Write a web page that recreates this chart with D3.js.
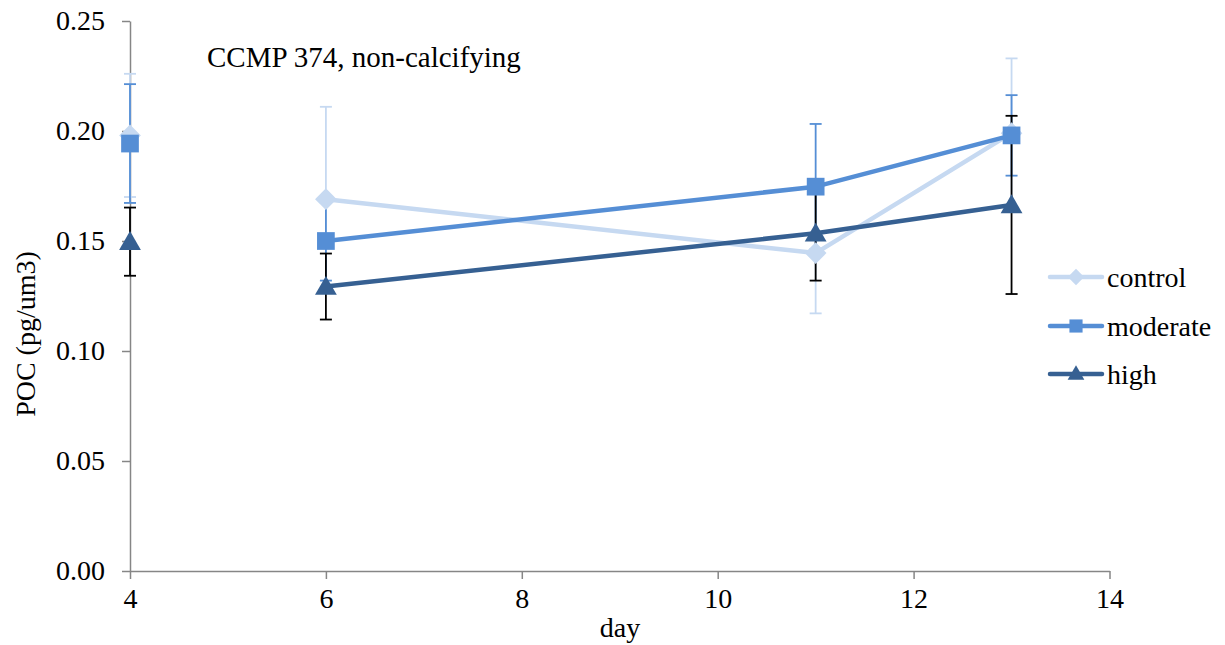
<!DOCTYPE html>
<html><head><meta charset="utf-8">
<script src="https://cdn.jsdelivr.net/npm/d3@7"></script>
<style>body{margin:0;background:#fff}svg text{font-family:"Liberation Serif","Times New Roman",serif;fill:#000}</style>
</head><body>
<svg id="c" width="1225" height="645"></svg>
<script>
const days = [4, 5, 6, 11, 13];
const seriesNames = ["control", "moderate", "high"];
const controlVals = [0.198, null, 0.169, 0.1445, 0.199];
const controlErr = [0.028, null, 0.042, 0.0274, 0.034];
const moderateVals = [0.1943, null, 0.150, 0.1747, 0.198];
const moderateErr = [0.027, null, 0.018, 0.0285, 0.0183];
const highVals = [0.1497, null, 0.1293, 0.1535, 0.1664];
const highErr = [0.0155, null, 0.015, 0.0215, 0.0405];
const yTicks = [0, 0.05, 0.10, 0.15, 0.20, 0.25];
const xTicks = [4, 6, 8, 10, 12, 14];
const title = "CCMP 374, non-calcifying";

const colors = ["#c6d9f1", "#558ed5", "#366092"];
const errColors = ["#c6d9f1", "#558ed5", "#000000"];
const symbols = [d3.symbolDiamond2, d3.symbolSquare2, d3.symbolTriangle2];
const vals = [controlVals, moderateVals, highVals];
const errs = [controlErr, moderateErr, highErr];

const svg = d3.select("#c");
const x = d3.scaleLinear().domain([4, 14]).range([130, 1109.5]);
const y = d3.scaleLinear().domain([0, 0.25]).range([571, 21]);
const fs = 28;

// axes
const gy = svg.append("g").attr("transform", "translate(130,0)")
  .call(d3.axisLeft(y).tickValues(yTicks).tickFormat(d3.format(".2f")).tickSize(8).tickSizeOuter(0));
const gx = svg.append("g").attr("transform", "translate(0,571)")
  .call(d3.axisBottom(x).tickValues(xTicks).tickFormat(d3.format("d")).tickSize(8).tickSizeOuter(0));
[gy, gx].forEach(g => {
  g.select(".domain").attr("stroke", "#868686").attr("stroke-width", 1.5);
  g.selectAll(".tick line").attr("stroke", "#868686").attr("stroke-width", 1.5);
  g.selectAll(".tick text").attr("font-size", fs).attr("font-family", "Liberation Serif").attr("fill", "#000");
});
gy.selectAll(".tick text").attr("x", -25);
gx.selectAll(".tick text").attr("y", 17);

// error bars
const cap = 6;
seriesNames.forEach((s, i) => {
  const g = svg.append("g").attr("stroke", errColors[i]).attr("stroke-width", 1.8).attr("fill", "none");
  days.forEach((d, j) => {
    if (vals[i][j] == null) return;
    const cx = x(d), lo = y(vals[i][j] - errs[i][j]), hi = y(vals[i][j] + errs[i][j]);
    g.append("line").attr("x1", cx).attr("x2", cx).attr("y1", lo).attr("y2", hi);
    g.append("line").attr("x1", cx - cap).attr("x2", cx + cap).attr("y1", lo).attr("y2", lo);
    g.append("line").attr("x1", cx - cap).attr("x2", cx + cap).attr("y1", hi).attr("y2", hi);
  });
});

// lines and markers
const line = d3.line().defined(d => d != null).x((d, j) => x(days[j])).y(d => y(d));
const symSizes = [300, 400, 340];
seriesNames.forEach((s, i) => {
  svg.append("path").datum(vals[i]).attr("d", line).attr("fill", "none")
    .attr("stroke", colors[i]).attr("stroke-width", 4.5).attr("stroke-linejoin", "round");
});
seriesNames.forEach((s, i) => {
  const pts = days.map((d, j) => ({d, v: vals[i][j]})).filter(p => p.v != null);
  svg.append("g").selectAll("path").data(pts).join("path")
    .attr("transform", p => `translate(${x(p.d)},${y(p.v) + (i === 2 ? 2 : 0)})`)
    .attr("d", d3.symbol().type(symbols[i]).size(symSizes[i]))
    .attr("fill", colors[i]);
});

// title
svg.append("text").attr("x", 207).attr("y", 67).attr("font-size", 29).text(title);

// axis titles
svg.append("text").attr("x", 620).attr("y", 637).attr("text-anchor", "middle").attr("font-size", fs).text("day");
svg.append("text").attr("transform", "translate(35,334) rotate(-90)").attr("text-anchor", "middle").attr("font-size", fs).text("POC (pg/um3)");

// legend
const legY = [277, 326, 374];
const legSizes = [170, 220, 200];
seriesNames.forEach((s, i) => {
  const g = svg.append("g");
  g.append("line").attr("x1", 1050).attr("x2", 1102).attr("y1", legY[i]).attr("y2", legY[i])
    .attr("stroke", colors[i]).attr("stroke-width", 4.5).attr("stroke-linecap", "round");
  g.append("path").attr("transform", `translate(1076,${legY[i] + (i === 2 ? 1 : 0)})`)
    .attr("d", d3.symbol().type(symbols[i]).size(legSizes[i])).attr("fill", colors[i]);
  g.append("text").attr("x", 1107).attr("y", legY[i] + 10).attr("font-size", fs).text(s);
});
</script>
</body></html>
